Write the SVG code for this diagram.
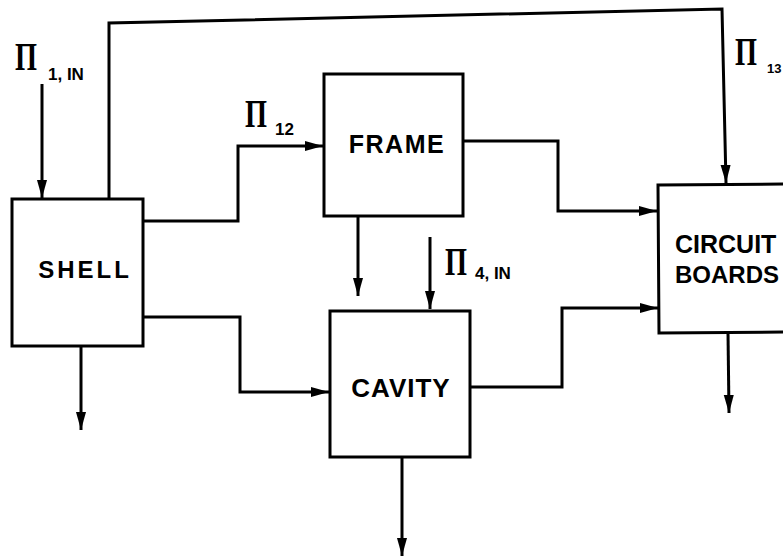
<svg xmlns="http://www.w3.org/2000/svg" width="783" height="558" viewBox="0 0 783 558">
<style>
.box{fill:none;stroke:#000;stroke-width:3;stroke-linejoin:miter}
.wire{fill:none;stroke:#000;stroke-width:3;stroke-linejoin:miter}
.lbl{font-family:"Liberation Sans",Arial,sans-serif;font-weight:bold;fill:#000}
.pi{font-family:"Liberation Serif","Times New Roman",serif;font-weight:bold;font-size:40px;fill:#000}
.sub{font-family:"Liberation Sans",Arial,sans-serif;font-weight:bold;font-size:17px;fill:#000}
</style>
<defs>
<marker id="ah" markerUnits="userSpaceOnUse" markerWidth="20" markerHeight="12" refX="18" refY="5" orient="auto">
<path d="M0,0 L18,5 L0,10 Z" fill="#000"/>
</marker>
</defs>
<rect width="783" height="558" fill="#fff"/>
<g id="connectors">
<path class="wire" d="M42,84 L42,198" marker-end="url(#ah)"/>
<path class="wire" d="M109,199 L109,23 L722,9 L726,183" marker-end="url(#ah)"/>
<path class="wire" d="M143,221 L238,221 L238,146 L323,146" marker-end="url(#ah)"/>
<path class="wire" d="M143,317 L240,317 L240,392 L329,392" marker-end="url(#ah)"/>
<path class="wire" d="M358,216 L358,296" marker-end="url(#ah)"/>
<path class="wire" d="M430,237 L430,309" marker-end="url(#ah)"/>
<path class="wire" d="M463,141 L558,141 L558,211 L657,211" marker-end="url(#ah)"/>
<path class="wire" d="M470,387 L562,387 L562,308 L658,308" marker-end="url(#ah)"/>
<path class="wire" d="M81,346 L81,430" marker-end="url(#ah)"/>
<path class="wire" d="M402,457 L402,556" marker-end="url(#ah)"/>
<path class="wire" d="M728,333 L729,413" marker-end="url(#ah)"/>
</g>
<g id="shell">
<rect class="box" x="12" y="199" width="131" height="147"/>
<text class="lbl" x="85" y="278" font-size="24" letter-spacing="3" text-anchor="middle">SHELL</text>
</g>
<g id="frame">
<rect class="box" x="324" y="74" width="139" height="142"/>
<text class="lbl" x="397" y="153" font-size="25" letter-spacing="1.5" text-anchor="middle">FRAME</text>
</g>
<g id="cavity">
<rect class="box" x="330" y="311" width="140" height="146"/>
<text class="lbl" x="401" y="397" font-size="26" letter-spacing="1" text-anchor="middle">CAVITY</text>
</g>
<g id="circuit-boards">
<path class="box" d="M790,184 L658,185 L659,333 L790,332"/>
<text class="lbl" x="675" y="253" font-size="25">CIRCUIT</text>
<text class="lbl" x="675" y="283" font-size="24">BOARDS</text>
</g>
<g id="labels">
<text class="pi" x="15" y="70" textLength="22" lengthAdjust="spacingAndGlyphs">Π</text>
<text class="sub" x="48" y="80">1, IN</text>
<text class="pi" x="245" y="127" textLength="22" lengthAdjust="spacingAndGlyphs">Π</text>
<text class="sub" x="275" y="135">12</text>
<text class="pi" x="735" y="65" textLength="22" lengthAdjust="spacingAndGlyphs">Π</text>
<text class="sub" x="767" y="73" style="font-size:13px">13</text>
<text class="pi" x="445" y="275" textLength="22" lengthAdjust="spacingAndGlyphs">Π</text>
<text class="sub" x="475" y="279">4, IN</text>
</g>
</svg>
